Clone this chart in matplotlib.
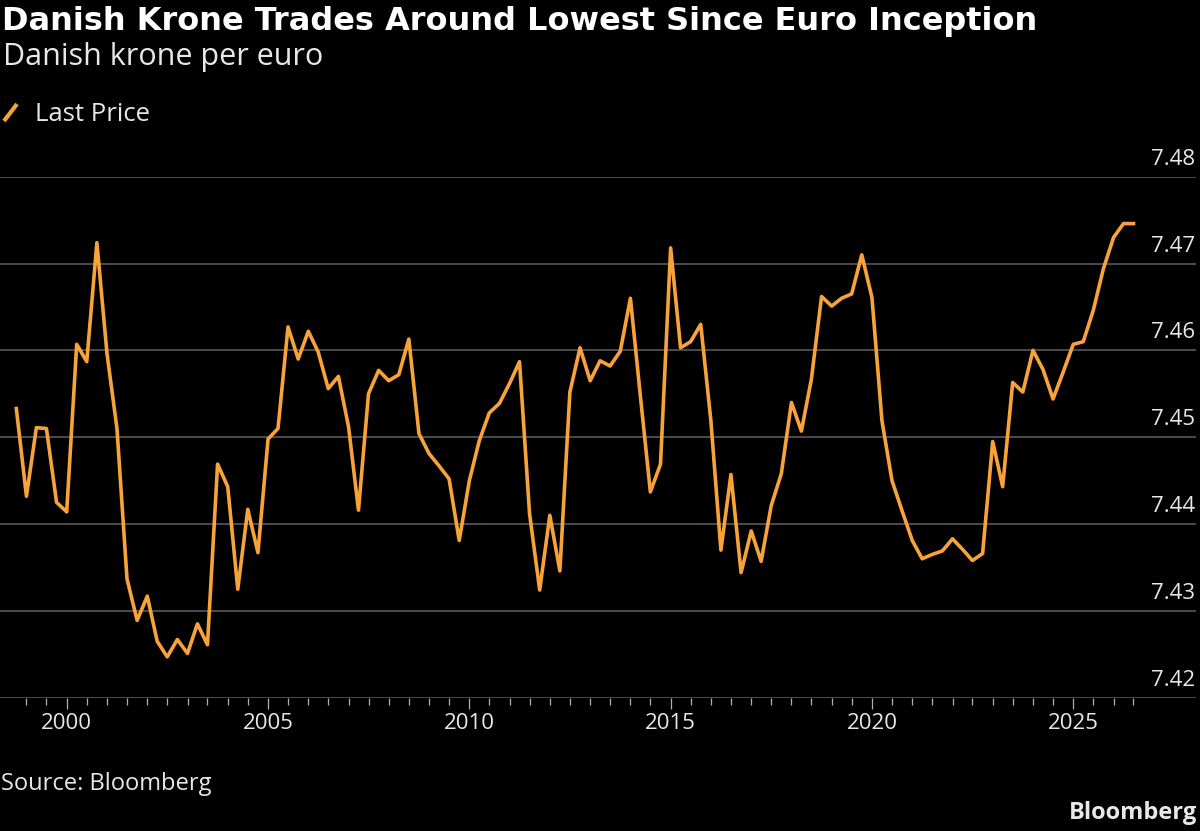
import pandas as pd
import matplotlib
matplotlib.use("Agg")
import matplotlib.pyplot as plt
import matplotlib.dates as mdates
from matplotlib.ticker import FixedLocator
from matplotlib.lines import Line2D
from matplotlib.transforms import blended_transform_factory, offset_copy

plt.rcParams['font.family'] = ['Open Sans', 'DejaVu Sans']

title = 'Danish Krone Trades Around Lowest Since Euro Inception'
subtitle = 'Danish krone per euro'
series_name = 'Last Price'
source = 'Source: Bloomberg'

# quarterly readings, DKK per EUR, starting Q4 1998
first_quarter = '1998-10-01'
price = [
    7.4533,
    7.4432, 7.4511, 7.4510, 7.4425,  # 1999
    7.4414, 7.4607, 7.4587, 7.4724,  # 2000
    7.4596, 7.4510, 7.4337, 7.4289,  # 2001
    7.4317, 7.4265, 7.4247, 7.4267,  # 2002
    7.4251, 7.4285, 7.4261, 7.4469,  # 2003
    7.4443, 7.4325, 7.4417, 7.4367,  # 2004
    7.4498, 7.4510, 7.4627, 7.4590,  # 2005
    7.4622, 7.4598, 7.4556, 7.4570,  # 2006
    7.4512, 7.4416, 7.4550, 7.4577,  # 2007
    7.4565, 7.4572, 7.4613, 7.4504,  # 2008
    7.4481, 7.4467, 7.4452, 7.4381,  # 2009
    7.4450, 7.4496, 7.4528, 7.4539,  # 2010
    7.4562, 7.4587, 7.4412, 7.4324,  # 2011
    7.4410, 7.4346, 7.4552, 7.4603,  # 2012
    7.4565, 7.4588, 7.4582, 7.4599,  # 2013
    7.4660, 7.4548, 7.4437, 7.4469,  # 2014
    7.4718, 7.4603, 7.4610, 7.4630,  # 2015
    7.4519, 7.4370, 7.4457, 7.4344,  # 2016
    7.4392, 7.4357, 7.4421, 7.4458,  # 2017
    7.4540, 7.4507, 7.4567, 7.4662,  # 2018
    7.4651, 7.4660, 7.4665, 7.4710,  # 2019
    7.4661, 7.4519, 7.4450, 7.4415,  # 2020
    7.4381, 7.4360, 7.4365, 7.4369,  # 2021
    7.4383, 7.4371, 7.4358, 7.4366,  # 2022
    7.4495, 7.4443, 7.4563, 7.4552,  # 2023
    7.4600, 7.4578, 7.4544, 7.4575,  # 2024
    7.4607, 7.4610, 7.4646, 7.4694,  # 2025
    7.4730, 7.4746, 7.4746,          # 2026
]
y_ticks = [7.42, 7.43, 7.44, 7.45, 7.46, 7.47, 7.48]

orange = '#f7a33a'
grid_gray = '#606060'
text_col = '#e8e8e8'

dates = pd.date_range(first_quarter, periods=len(price), freq='QS')

fig = plt.figure(figsize=(12, 8.31), dpi=100, facecolor='black')
H = 831.0
W = 1200.0
ax = fig.add_axes([0, 1 - 697.7 / H, 1196 / W, (697.7 - 176.7) / H])
ax.set_facecolor('black')

ax.plot(dates, price, color=orange, lw=2.6, solid_joinstyle='round', zorder=3)

ax.set_ylim(y_ticks[0], y_ticks[-1])
ax.set_xlim(pd.Timestamp('1998-05-06'), pd.Timestamp('2028-01-19'))

for s in ax.spines.values():
    s.set_visible(False)

# horizontal grid + right-hand labels sitting above each line
ax.set_yticks(y_ticks)
ax.yaxis.grid(True, color=grid_gray, lw=1.1)
ax.tick_params(axis='y', length=0, labelleft=False, labelright=False)
ax.set_axisbelow(True)
lab_tr = offset_copy(blended_transform_factory(ax.transAxes, ax.transData),
                     fig=fig, x=-1, y=12, units='dots')
for v in y_ticks:
    ax.text(1.0, v, f'{v:.2f}', transform=lab_tr, ha='right', va='baseline',
            fontsize=16, color=text_col)

# years, with half-year minor ticks across the data span
ax.xaxis.set_major_locator(mdates.YearLocator(5))
ax.xaxis.set_major_formatter(mdates.DateFormatter('%Y'))
half_years = [d for d in dates if d.month in (1, 7)]
ax.xaxis.set_minor_locator(FixedLocator(mdates.date2num(half_years)))
ax.tick_params(axis='x', which='major', length=8, width=0.9, color='#b0b0b0',
               labelsize=16, labelcolor=text_col, pad=3)
ax.tick_params(axis='x', which='minor', length=5, width=0.9, color='#b0b0b0')

# header
fig.text(2 / W, 1 - 30 / H, title, fontsize=23, fontweight='bold',
         family=['DejaVu Sans'], color='white', va='baseline')
fig.text(3 / W, 1 - 65 / H, subtitle, fontsize=22, color=text_col,
         va='baseline')
fig.add_artist(Line2D([4 / W, 17 / W], [1 - 121 / H, 1 - 104 / H],
                      transform=fig.transFigure, color=orange, lw=3.0,
                      solid_capstyle='butt'))
fig.text(35 / W, 1 - 121 / H, series_name, fontsize=18.5, color=text_col,
         va='baseline')

# footer
fig.text(1 / W, 1 - 790 / H, source, fontsize=17, color=text_col,
         va='baseline')
fig.text(1197 / W, 1 - 819 / H, 'Bloomberg', fontsize=17, fontweight='bold',
         color=text_col, ha='right', va='baseline')

fig.savefig('out.png', dpi=100, facecolor='black')
